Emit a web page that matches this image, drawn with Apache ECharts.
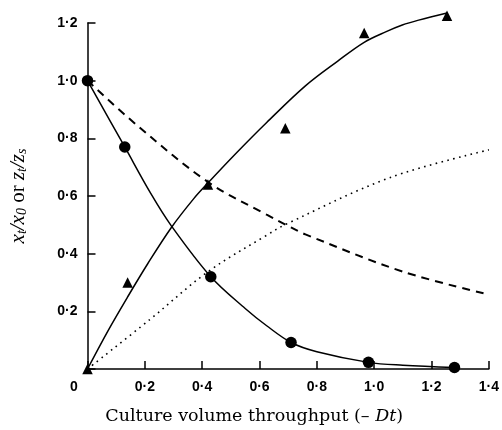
<!DOCTYPE html>
<html>
<head>
<meta charset="utf-8">
<script src="https://cdn.jsdelivr.net/npm/echarts@6/dist/echarts.min.js"></script>
<style>html,body{margin:0;padding:0;background:#fff}#c{width:502px;height:430px}</style>
</head>
<body>
<div id="c"></div>
<script>
// Measured points
const circleX = [0, 0.13, 0.43, 0.71, 0.98, 1.28];
const circleY = [1.0, 0.77, 0.32, 0.092, 0.023, 0.005];
const triX = [0, 0.14, 0.42, 0.69, 0.965, 1.254];
const triY = [0, 0.30, 0.64, 0.835, 1.165, 1.225];
// Curves
const decayX = [0, 0.13, 0.22, 0.29, 0.43, 0.55, 0.625, 0.71, 0.8, 0.98, 1.1, 1.28];
const decayY = [1.0, 0.77, 0.61, 0.50, 0.32, 0.21, 0.15, 0.092, 0.06, 0.023, 0.013, 0.005];
const growX = [0, 0.07, 0.14, 0.21, 0.292, 0.37, 0.42, 0.52, 0.625, 0.76, 0.873, 0.965, 1.042, 1.098, 1.155, 1.254];
const growY = [0, 0.13, 0.25, 0.365, 0.49, 0.59, 0.645, 0.75, 0.855, 0.982, 1.068, 1.133, 1.170, 1.193, 1.210, 1.235];
const dashX = [0, 0.173, 0.421, 0.625, 0.692, 0.76, 1.099, 1.397];
const dashY = [1.0, 0.845, 0.648, 0.535, 0.50, 0.467, 0.338, 0.259];
const dotX = [0, 0.218, 0.421, 0.625, 0.692, 1.053, 1.4];
const dotY = [0, 0.172, 0.338, 0.464, 0.502, 0.663, 0.76];
const xTicks = [0, 0.2, 0.4, 0.6, 0.8, 1.0, 1.2, 1.4];
const yTicks = [0, 0.2, 0.4, 0.6, 0.8, 1.0, 1.2];

const zip = (a, b) => a.map((v, i) => [v, b[i]]);
const fmt = v => v.toFixed(1).replace('.', '\u00b7');
const labelFont = {fontFamily: 'Liberation Sans', fontWeight: 'bold', fontSize: 14, color: '#000'};

const chart = echarts.init(document.getElementById('c'), null, {renderer: 'canvas'});
const lineSeries = (xs, ys, style) => ({
  type: 'line', data: zip(xs, ys), smooth: 0.35, showSymbol: false, clip: false,
  lineStyle: Object.assign({color: '#000', width: 1.5}, style)
});
chart.setOption({
  animation: false,
  backgroundColor: '#fff',
  grid: {left: 75.5, right: 13, top: 23, bottom: 56, containLabel: false},
  xAxis: {
    type: 'value', min: 0, max: 1.4, interval: 0.2,
    axisLine: {lineStyle: {color: '#000', width: 1.5}},
    axisTick: {inside: true, length: 8, lineStyle: {color: '#000', width: 1.5}},
    splitLine: {show: false},
    axisLabel: Object.assign({}, labelFont, {
      margin: 11,
      formatter: v => Math.abs(v) < 1e-9 ? '{z|0}' : fmt(v),
      rich: {z: Object.assign({}, labelFont, {padding: [0, 27, 0, 0]})}
    }),
    name: 'Culture volume throughput (\u2013 {i|Dt})',
    nameLocation: 'middle', nameGap: 38,
    nameTextStyle: {
      fontFamily: 'DejaVu Serif', fontSize: 17.5, color: '#000', padding: [0, 68, 0, 0],
      rich: {i: {fontFamily: 'DejaVu Serif', fontStyle: 'italic', fontSize: 17.5, color: '#000'}}
    }
  },
  yAxis: {
    type: 'value', min: 0, max: 1.2, interval: 0.2,
    axisLine: {lineStyle: {color: '#000', width: 1.5}},
    axisTick: {inside: true, length: 8, lineStyle: {color: '#000', width: 1.5}},
    splitLine: {show: false},
    axisLabel: Object.assign({}, labelFont, {
      margin: 10,
      formatter: v => Math.abs(v) < 1e-9 ? '' : fmt(v)
    }),
    name: '{i|x}{s|t}{i|/x}{s|0}{r| or }{i|z}{s|t}{i|/z}{s|s}',
    nameLocation: 'middle', nameGap: 58,
    nameTextStyle: {
      color: '#000',
      rich: {
        i: {fontFamily: 'Liberation Serif', fontStyle: 'italic', fontSize: 21, lineHeight: 22, color: '#000'},
        s: {fontFamily: 'Liberation Serif', fontStyle: 'italic', fontSize: 14, lineHeight: 13, verticalAlign: 'bottom', color: '#000'},
        r: {fontFamily: 'Liberation Serif', fontSize: 21, lineHeight: 22, color: '#000'}
      }
    }
  },
  series: [
    lineSeries(decayX, decayY, {}),
    lineSeries(growX, growY, {}),
    lineSeries(dashX, dashY, {width: 2, type: [8, 6]}),
    lineSeries(dotX, dotY, {width: 1.6, type: [1.6, 4.4]}),
    {type: 'scatter', data: zip(circleX, circleY), symbol: 'circle', symbolSize: 11.5, clip: false,
     itemStyle: {color: '#000', opacity: 1}},
    {type: 'scatter', data: zip(triX, triY), symbol: 'triangle', symbolSize: 10.5, clip: false,
     itemStyle: {color: '#000', opacity: 1}}
  ]
});
</script>
</body>
</html>
